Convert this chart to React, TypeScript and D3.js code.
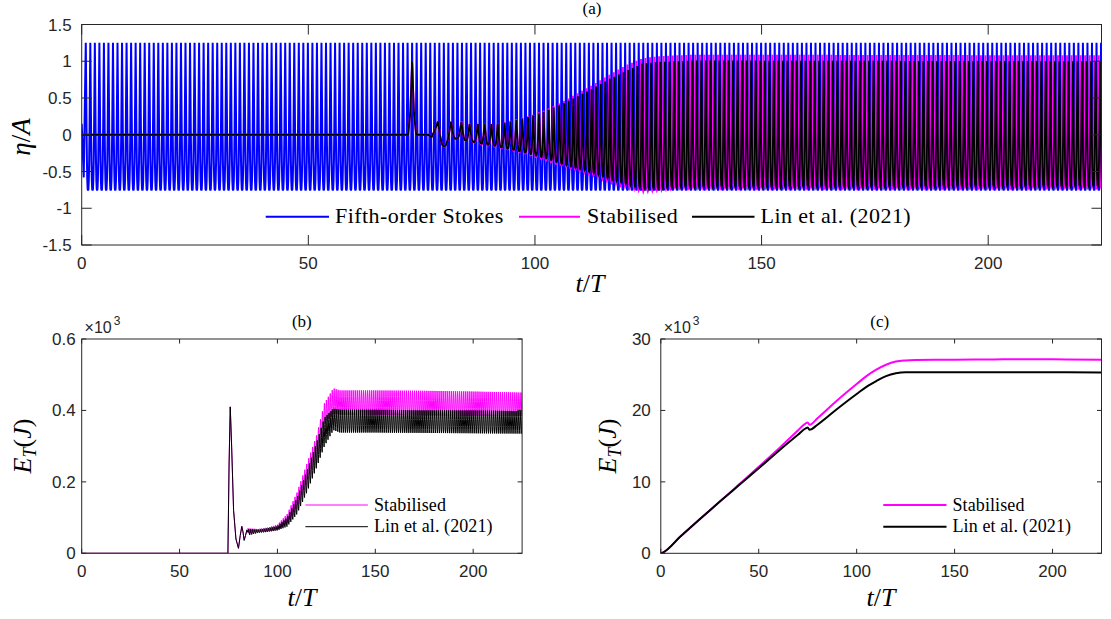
import React from "react";
import * as d3 from "d3";

// ---------------- Panel (a) data ----------------
const aXTicks = [0, 50, 100, 150, 200];
const aYTicks = [-1.5, -1, -0.5, 0, 0.5, 1, 1.5];
const tDomain = [0, 225];
const aYDomain = [-1.5, 1.5];

// one wave period, crest to crest (1 = crest, 0 = trough)
const stokesShape = [1, 0.72, 0.42, 0.2, 0.07, 0.01, 0, 0.01, 0.07, 0.2, 0.42, 0.72];
const stokesLeadT = [0, 0.45];
const stokesLeadV = [0.15, -0.58];
const stokesCrestTimes = [0.9];
const wavePeriod = 1.0;
const stokesEnvT = [0, 225];
const stokesCrest = [1.25, 1.25];
const stokesTrough = [-0.76, -0.76];

// Stabilised / Lin et al. (2021) before the wave train reaches the gauge
const preT = [0, 72.0, 72.5, 72.9, 73.3, 73.8, 76.4, 77.2, 77.9];
const preStab = [0, 0, 0.3, 0.97, 0.3, 0, 0, -0.03, 0.06];
const preLin = [0, 0, 0.3, 0.99, 0.3, 0, 0, -0.03, 0.06];
const trainCrestTimes = [78.6, 81.5, 83.8, 85.6, 87.4, 88.9, 90.4, 91.8, 93.3, 94.6, 95.9, 97.2, 98.5, 99.6, 100.9, 101.9, 103.0, 104.1, 105.3, 106.4, 107.4];
const crestT = [78.6, 83.8, 85.6, 92, 94.6, 97.2, 99.6, 101.9, 104.1, 106.4, 109, 112.8, 116.5, 120.2, 123.8, 127.5, 135, 225];
const stabCrest = [0.18, 0.18, 0.15, 0.15, 0.19, 0.23, 0.27, 0.33, 0.39, 0.46, 0.55, 0.68, 0.82, 0.95, 1.04, 1.07, 1.09, 1.08];
const linCrest = [0.18, 0.17, 0.145, 0.145, 0.18, 0.22, 0.26, 0.31, 0.37, 0.43, 0.51, 0.63, 0.76, 0.87, 0.97, 0.99, 1.01, 1.0];
const troughT = [80, 82.6, 85, 88, 91, 94, 97, 100, 103, 105.4, 109, 112.8, 116.5, 120.2, 123.8, 127.5, 131, 225];
const stabTrough = [-0.16, -0.05, -0.08, -0.13, -0.16, -0.2, -0.24, -0.3, -0.36, -0.41, -0.48, -0.55, -0.64, -0.71, -0.77, -0.75, -0.715, -0.71];
const linTrough = [-0.16, -0.05, -0.08, -0.12, -0.15, -0.19, -0.23, -0.28, -0.33, -0.39, -0.45, -0.52, -0.6, -0.67, -0.73, -0.73, -0.71, -0.7];
const lagT = [0, 100, 120, 130, 225];
const linLag = [0, 0, 0.15, 0.3, 0.3]; // phase lag of Lin et al. in periods

// ---------------- Panel (b) data ----------------
const bXTicks = [0, 50, 100, 150, 200];
const bYTicks = [0, 0.2, 0.4, 0.6];
const bYDomain = [0, 0.6];
const bPreT = [0, 74.7, 75.3, 75.9, 76.6, 77.6, 78.8, 80.1, 81.0, 81.8, 82.4, 83.0, 83.7, 84.4, 85.0];
const bPreStab = [0, 0, 0.25, 0.41, 0.3, 0.12, 0.04, 0.014, 0.05, 0.076, 0.06, 0.037, 0.05, 0.066, 0.06];
const bPreLin = [0, 0, 0.25, 0.41, 0.3, 0.12, 0.04, 0.014, 0.05, 0.075, 0.06, 0.036, 0.05, 0.065, 0.058];
const bBandStart = 85.0;
const bBandT = [85, 90, 95, 100, 105, 110, 115, 120, 124, 128.6, 132, 150, 175, 200, 225];
const bStabHi = [0.07, 0.068, 0.072, 0.08, 0.11, 0.17, 0.25, 0.33, 0.42, 0.462, 0.456, 0.456, 0.455, 0.453, 0.45];
const bStabLo = [0.056, 0.06, 0.062, 0.067, 0.085, 0.13, 0.2, 0.28, 0.36, 0.39, 0.388, 0.388, 0.386, 0.385, 0.385];
const bLinHi = [0.068, 0.066, 0.07, 0.076, 0.1, 0.155, 0.23, 0.31, 0.38, 0.405, 0.402, 0.402, 0.4, 0.4, 0.398];
const bLinLo = [0.05, 0.057, 0.06, 0.064, 0.075, 0.11, 0.17, 0.24, 0.3, 0.345, 0.338, 0.338, 0.337, 0.336, 0.335];
const energyShape = [1, 0.6, 0.15, 0, 0.3, 0.75];

// ---------------- Panel (c) data ----------------
const cXTicks = [0, 50, 100, 150, 200];
const cYTicks = [0, 10, 20, 30];
const cYDomain = [0, 30];
const cT = [0, 1, 10, 20, 30, 40, 50, 60, 70, 74, 75, 76, 80, 90, 100, 105, 110, 115, 120, 125, 130, 150, 175, 200, 225];
const cStab = [0, 0.1, 2.35, 4.8, 7.2, 9.65, 12.1, 14.6, 17.2, 18.2, 18.3, 18.0, 18.9, 21.4, 23.7, 24.8, 25.7, 26.4, 26.85, 27.0, 27.05, 27.1, 27.15, 27.15, 27.1];
const cLin = [0, 0.1, 2.35, 4.8, 7.2, 9.55, 11.9, 14.3, 16.6, 17.5, 17.6, 17.3, 18.0, 20.2, 22.3, 23.3, 24.1, 24.8, 25.2, 25.35, 25.35, 25.35, 25.35, 25.35, 25.3];

const legendA = ["Fifth-order Stokes", "Stabilised", "Lin et al. (2021)"];
const legendBC = ["Stabilised", "Lin et al. (2021)"];

// ---------------- helpers ----------------
type P = [number, number];
const env = (t: number[], v: number[]) => d3.scaleLinear().domain(t).range(v).clamp(true);

function waveTrain(leadT: number[], leadV: number[], crests: number[], cr: (t: number) => number, tr: (t: number) => number,
  shape: number[], tEnd: number, lag: (t: number) => number = () => 0): P[] {
  const pts: P[] = leadT.map((t, i) => [t, leadV[i]] as P);
  const cs = crests.slice();
  while (cs[cs.length - 1] < tEnd + 2 * wavePeriod) cs.push(cs[cs.length - 1] + wavePeriod);
  const n = shape.length;
  for (let k = 0; k < cs.length - 1; k++) {
    const c0 = cs[k] + lag(cs[k]) * wavePeriod;
    const c1 = cs[k + 1] + lag(cs[k + 1]) * wavePeriod;
    for (let j = 0; j < n; j++) {
      const t = c0 + ((c1 - c0) * j) / n;
      const lo = tr(t), hi = cr(t);
      pts.push([t, lo + (hi - lo) * shape[j]]);
    }
  }
  return pts;
}

const AX = "#262626";
const SANS = "Liberation Sans, Arial, sans-serif";
const SERIF = "Liberation Serif, DejaVu Serif, serif";
const TICK_FS = 17;

interface Box { x0: number; x1: number; y0: number; y1: number; }

function Frame({ box, x, y, xTicks, yTicks, tickLen, gap }: any) {
  return (
    <g>
      <rect x={box.x0} y={box.y0} width={box.x1 - box.x0} height={box.y1 - box.y0} fill="none" stroke={AX} strokeWidth={1} />
      {xTicks.map((t: number) => (
        <g key={"x" + t}>
          <line x1={x(t)} x2={x(t)} y1={box.y1} y2={box.y1 - tickLen} stroke={AX} />
          <line x1={x(t)} x2={x(t)} y1={box.y0} y2={box.y0 + tickLen} stroke={AX} />
          <text x={x(t)} y={box.y1 + 24} textAnchor="middle" fontFamily={SANS} fontSize={TICK_FS} fill={AX}>{String(t)}</text>
        </g>
      ))}
      {yTicks.map((t: number) => (
        <g key={"y" + t}>
          <line x1={box.x0} x2={box.x0 + tickLen} y1={y(t)} y2={y(t)} stroke={AX} />
          <line x1={box.x1} x2={box.x1 - tickLen} y1={y(t)} y2={y(t)} stroke={AX} />
          <text x={box.x0 - gap} y={y(t) + 6} textAnchor="end" fontFamily={SANS} fontSize={TICK_FS} fill={AX}>{String(t)}</text>
        </g>
      ))}
    </g>
  );
}

function TOverT({ cx, y, size }: { cx: number; y: number; size: number }) {
  return (
    <text x={cx} y={y} textAnchor="middle" fontFamily={SERIF} fontSize={size} fill="#000">
      <tspan fontStyle="italic">t</tspan><tspan>/</tspan><tspan fontStyle="italic">T</tspan>
    </text>
  );
}

function ETLabel({ x, cy }: { x: number; cy: number }) {
  return (
    <text transform={`translate(${x},${cy}) rotate(-90)`} textAnchor="middle" fontFamily={SERIF} fontSize={26} fill="#000">
      <tspan fontStyle="italic">E</tspan>
      <tspan fontStyle="italic" fontSize={18} dy={5}>T</tspan>
      <tspan dy={-5}>(</tspan>
      <tspan fontStyle="italic">J</tspan>
      <tspan>)</tspan>
    </text>
  );
}

function Exponent({ x, y }: { x: number; y: number }) {
  return (
    <text x={x} y={y} fontFamily={SANS} fontSize={16} fill={AX}>
      ×10<tspan fontSize={12} dx={2} dy={-8}>3</tspan>
    </text>
  );
}

export default function App() {
  const W = 1111, H = 619;

  // ---- panel a ----
  const A: Box = { x0: 81.7, x1: 1101.5, y0: 24.5, y1: 245 };
  const xa = d3.scaleLinear().domain(tDomain).range([A.x0, A.x1]);
  const ya = d3.scaleLinear().domain(aYDomain).range([A.y1, A.y0]);
  const lineA = d3.line<P>().x((d) => xa(d[0])).y((d) => ya(d[1]));

  const blue = waveTrain(stokesLeadT, stokesLeadV, stokesCrestTimes, env(stokesEnvT, stokesCrest), env(stokesEnvT, stokesTrough), stokesShape, 225);
  const stab = waveTrain(preT, preStab, trainCrestTimes, env(crestT, stabCrest), env(troughT, stabTrough), stokesShape, 225);
  const lin = waveTrain(preT, preLin, trainCrestTimes, env(crestT, linCrest), env(troughT, linTrough), stokesShape, 225, env(lagT, linLag));

  // ---- panel b ----
  const B: Box = { x0: 81.7, x1: 522.1, y0: 339, y1: 553.3 };
  const xb = d3.scaleLinear().domain(tDomain).range([B.x0, B.x1]);
  const yb = d3.scaleLinear().domain(bYDomain).range([B.y1, B.y0]);
  const lineB = d3.line<P>().x((d) => xb(d[0])).y((d) => yb(d[1]));
  const bCrests = [bBandStart];
  const bStab = waveTrain(bPreT, bPreStab, bCrests, env(bBandT, bStabHi), env(bBandT, bStabLo), energyShape, 225);
  const bLin = waveTrain(bPreT, bPreLin, bCrests, env(bBandT, bLinHi), env(bBandT, bLinLo), energyShape, 225, () => 0.35);

  // ---- panel c ----
  const C: Box = { x0: 660.8, x1: 1101.5, y0: 339, y1: 553.3 };
  const xc = d3.scaleLinear().domain(tDomain).range([C.x0, C.x1]);
  const yc = d3.scaleLinear().domain(cYDomain).range([C.y1, C.y0]);
  const lineC = d3.line<number>().x((_d, i) => xc(cT[i])).y((d) => yc(d)).curve(d3.curveMonotoneX);

  const legA = [
    { x0: 265.7, x1: 329, tx: 335, c: "#0000ff" },
    { x0: 519, x1: 580, tx: 587, c: "#ff00ff" },
    { x0: 692, x1: 754.5, tx: 760.5, c: "#000000" },
  ];
  const legB = [
    { y: 505, c: "#ff00ff" },
    { y: 526.7, c: "#000000" },
  ];

  return (
    <svg width={W} height={H} style={{ position: "absolute", left: 0, top: 0, background: "#fff" }}>
      <defs>
        <clipPath id="clipA"><rect x={A.x0} y={A.y0} width={A.x1 - A.x0} height={A.y1 - A.y0} /></clipPath>
        <clipPath id="clipB"><rect x={B.x0} y={B.y0} width={B.x1 - B.x0} height={B.y1 - B.y0} /></clipPath>
        <clipPath id="clipC"><rect x={C.x0} y={C.y0} width={C.x1 - C.x0} height={C.y1 - C.y0} /></clipPath>
      </defs>
      <rect x={0} y={0} width={W} height={H} fill="#fff" />

      {/* ---------- (a) ---------- */}
      <text x={592} y={14} textAnchor="middle" fontFamily={SERIF} fontSize={17}>(a)</text>
      <g clipPath="url(#clipA)">
        <path d={lineA(blue) || ""} fill="none" stroke="#0000ff" strokeWidth={2} />
        <path d={lineA(stab) || ""} fill="none" stroke="#ff00ff" strokeWidth={2} />
        <path d={lineA(lin) || ""} fill="none" stroke="#000" strokeWidth={1.8} />
      </g>
      <Frame box={A} x={xa} y={ya} xTicks={aXTicks} yTicks={aYTicks} tickLen={10} gap={10} />
      {legA.map((l, i) => (
        <g key={i}>
          <line x1={l.x0} x2={l.x1} y1={216.7} y2={216.7} stroke={l.c} strokeWidth={2} />
          <text x={l.tx} y={223.3} fontFamily={SERIF} fontSize={22} letterSpacing={0.45} fill="#000">{legendA[i]}</text>
        </g>
      ))}
      <TOverT cx={590} y={292} size={26} />
      <text transform="translate(30,137) rotate(-90)" textAnchor="middle" fontFamily={SERIF} fontSize={27}>
        <tspan fontStyle="italic">η</tspan><tspan>/</tspan><tspan fontStyle="italic">A</tspan>
      </text>

      {/* ---------- (b) ---------- */}
      <text x={301.8} y={327} textAnchor="middle" fontFamily={SERIF} fontSize={17}>(b)</text>
      <g clipPath="url(#clipB)">
        <path d={lineB(bStab) || ""} fill="none" stroke="#ff00ff" strokeWidth={1} />
        <path d={lineB(bLin) || ""} fill="none" stroke="#000" strokeWidth={1} />
      </g>
      <Frame box={B} x={xb} y={yb} xTicks={bXTicks} yTicks={bYTicks} tickLen={4.5} gap={6} />
      <Exponent x={84.6} y={333.3} />
      {legB.map((l, i) => (
        <g key={i}>
          <line x1={305.4} x2={367.9} y1={l.y} y2={l.y} stroke={l.c} strokeWidth={1} />
          <text x={374} y={l.y + 5.5} fontFamily={SERIF} fontSize={18} letterSpacing={0.1} fill="#000">{legendBC[i]}</text>
        </g>
      ))}
      <TOverT cx={302} y={606} size={26} />
      <ETLabel x={31} cy={446} />

      {/* ---------- (c) ---------- */}
      <text x={879.8} y={327} textAnchor="middle" fontFamily={SERIF} fontSize={17}>(c)</text>
      <g clipPath="url(#clipC)">
        <path d={lineC(cStab) || ""} fill="none" stroke="#ff00ff" strokeWidth={2} />
        <path d={lineC(cLin) || ""} fill="none" stroke="#000" strokeWidth={2} />
      </g>
      <Frame box={C} x={xc} y={yc} xTicks={cXTicks} yTicks={cYTicks} tickLen={4.5} gap={10} />
      <Exponent x={663.7} y={333.3} />
      {legB.map((l, i) => (
        <g key={i}>
          <line x1={883.3} x2={946.5} y1={l.y} y2={l.y} stroke={l.c} strokeWidth={2} />
          <text x={952.5} y={l.y + 5.5} fontFamily={SERIF} fontSize={18} letterSpacing={0.1} fill="#000">{legendBC[i]}</text>
        </g>
      ))}
      <TOverT cx={881} y={606} size={26} />
      <ETLabel x={616} cy={446} />
    </svg>
  );
}
